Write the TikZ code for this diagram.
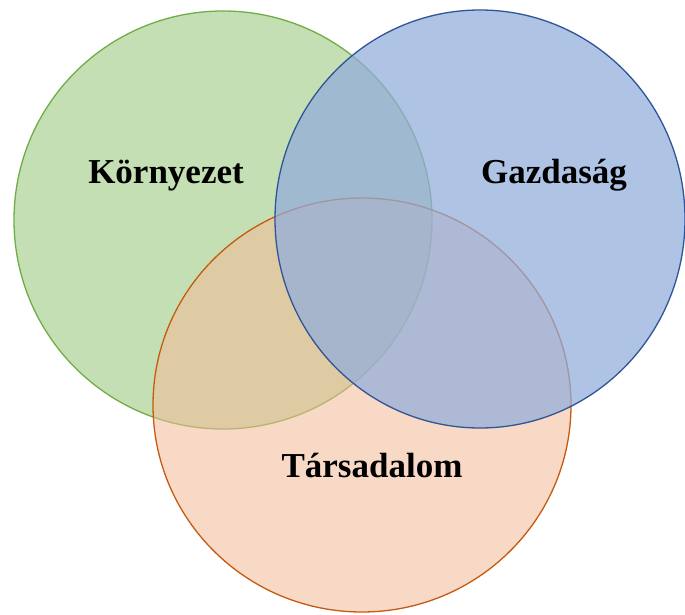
\documentclass[tikz,border=0pt]{standalone}
\usepackage{fontspec}
\setmainfont{Liberation Serif}
\definecolor{gfill}{RGB}{197,223,180}
\definecolor{gline}{HTML}{70AD47}
\definecolor{bfill}{RGB}{145,173,220}
\definecolor{bline}{HTML}{2F5597}
\definecolor{ofill}{RGB}{244,186,150}
\definecolor{oline}{HTML}{C55A11}
\tikzset{
  venn/.style={line width=1.3pt},
  lbl/.style={font=\fontsize{35}{40}\selectfont\bfseries, anchor=base, inner sep=0pt}
}
\begin{document}
\begin{tikzpicture}[x=1pt,y=-1pt]
\useasboundingbox (0,0) rectangle (685,615);
\fill[white] (0,0) rectangle (685,615);
\path[venn, draw=gline, fill=gfill] (223,220) ellipse [x radius=209, y radius=209];
\path[venn, draw=oline, fill=ofill, fill opacity=0.55] (362,405) ellipse [x radius=209, y radius=207];
\path[venn, draw=bline, fill=bfill, fill opacity=0.72] (480,219) ellipse [x radius=205, y radius=209];
\node[lbl] (env) at (166,183) {Környezet};
\node[lbl] (eco) at (554,183) {Gazdaság};
\node[lbl] (soc) at (372,477) {Társadalom};
\end{tikzpicture}
\end{document}
